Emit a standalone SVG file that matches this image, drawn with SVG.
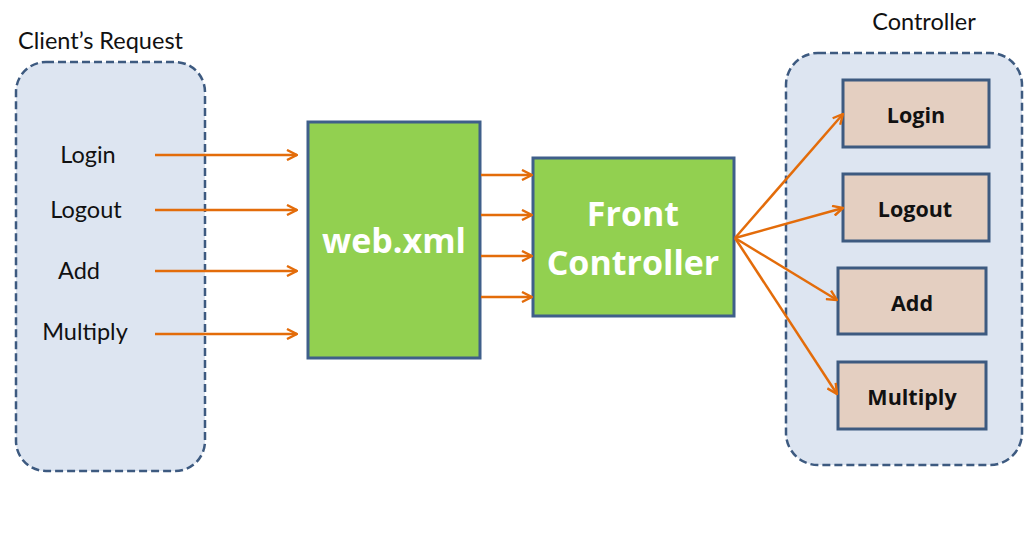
<svg xmlns="http://www.w3.org/2000/svg" width="1032" height="534" viewBox="0 0 1032 534">
<defs>
<marker id="ah" viewBox="0 0 12 12" refX="11" refY="6" markerWidth="12" markerHeight="12" markerUnits="userSpaceOnUse" orient="auto">
<path d="M1,1 L11,6 L1,11" fill="none" stroke="#E36C0A" stroke-width="2.4" stroke-linejoin="miter"/>
</marker>
</defs>
<style>
.cont{fill:#DDE5F1;stroke:#3D5A80;stroke-width:2.5;stroke-dasharray:8,4}
.green{fill:#92D050;stroke:#3F5F8A;stroke-width:3}
.tan{fill:#E4CFC1;stroke:#3D5A80;stroke-width:3}
.conn line{stroke:#E36C0A;stroke-width:2.5;marker-end:url(#ah)}
.lbl{font-family:Lato,"Open Sans",sans-serif;font-size:23.5px;fill:#111}
.big{font-family:"Open Sans",Lato,sans-serif;font-weight:bold;font-size:34px;fill:#fff;text-anchor:middle}
.bl{font-family:"Open Sans",Lato,sans-serif;font-weight:bold;font-size:21.5px;fill:#111;text-anchor:middle}
</style>
<rect width="1032" height="534" fill="#fff"/>
<g id="client">
<rect class="cont" x="16" y="62" width="189" height="409" rx="30"/>
<text class="lbl" x="18" y="49">Client’s Request</text>
<text class="lbl" x="88" y="163" text-anchor="middle">Login</text>
<text class="lbl" x="86" y="218" text-anchor="middle">Logout</text>
<text class="lbl" x="79" y="279" text-anchor="middle">Add</text>
<text class="lbl" x="85" y="340" text-anchor="middle">Multiply</text>
</g>
<g id="webxml">
<rect class="green" x="308" y="122" width="172" height="236"/>
<text class="big" x="394" y="253">web.xml</text>
</g>
<g id="front">
<rect class="green" x="533" y="158" width="201" height="158"/>
<text class="big" x="633" y="226">Front</text>
<text class="big" x="633" y="275">Controller</text>
</g>
<g id="controller">
<rect class="cont" x="786" y="53" width="236" height="412" rx="32"/>
<text class="lbl" x="924" y="30" text-anchor="middle">Controller</text>
</g>
<g id="c-login"><rect class="tan" x="843" y="80" width="146" height="67"/><text class="bl" x="916" y="123">Login</text></g>
<g id="c-logout"><rect class="tan" x="843" y="174" width="146" height="67"/><text class="bl" x="915" y="217">Logout</text></g>
<g id="c-add"><rect class="tan" x="838" y="268" width="148" height="66"/><text class="bl" x="912" y="311">Add</text></g>
<g id="c-multiply"><rect class="tan" x="838" y="362" width="148" height="67"/><text class="bl" x="912" y="405">Multiply</text></g>
<g id="connectors" class="conn">
<line x1="155" y1="155" x2="297" y2="155"/>
<line x1="155" y1="210" x2="297" y2="210"/>
<line x1="155" y1="271" x2="297" y2="271"/>
<line x1="155" y1="334" x2="297" y2="334"/>
<line x1="481" y1="175" x2="532" y2="175"/>
<line x1="481" y1="215" x2="532" y2="215"/>
<line x1="481" y1="256" x2="532" y2="256"/>
<line x1="481" y1="297" x2="532" y2="297"/>
<line x1="735" y1="238" x2="843" y2="114"/>
<line x1="735" y1="238" x2="843" y2="208"/>
<line x1="735" y1="238" x2="837" y2="300"/>
<line x1="735" y1="238" x2="837" y2="394"/>
</g>
</svg>
